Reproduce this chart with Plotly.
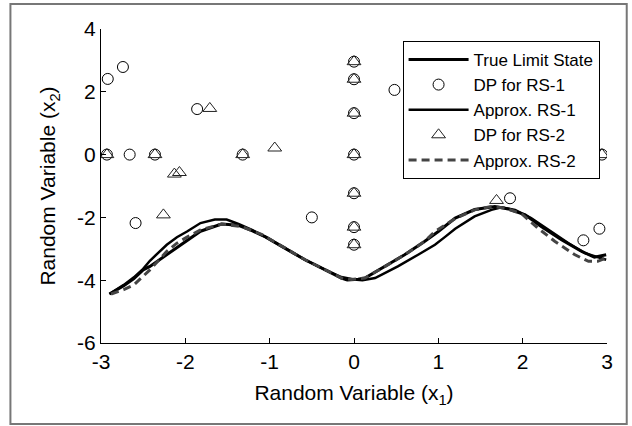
import plotly.graph_objects as go

# ---- data ----
true_x = [-2.90, -2.73, -2.61, -2.50, -2.42, -2.22, -2.10, -1.98, -1.82, -1.57, -1.37, -1.21, -1.05,
          -0.82, -0.58, -0.34, -0.15, -0.08, 0.05, 0.13, 0.37, 0.60, 0.84, 1.00, 1.20, 1.43, 1.67,
          1.83, 2.03, 2.22, 2.46, 2.70, 2.85, 2.99]
true_y = [-4.44, -4.18, -3.95, -3.67, -3.56, -3.19, -2.96, -2.75, -2.44, -2.21, -2.25, -2.42, -2.62,
          -2.98, -3.35, -3.67, -3.93, -3.99, -3.97, -3.93, -3.56, -3.19, -2.76, -2.45, -2.02, -1.75, -1.65,
          -1.73, -1.92, -2.29, -2.71, -3.08, -3.27, -3.19]

rs1_x = [-2.90, -2.73, -2.61, -2.50, -2.42, -2.22, -2.10, -1.98, -1.82, -1.65, -1.51, -1.37, -1.21,
         -1.05, -0.82, -0.58, -0.34, -0.15, 0.00, 0.10, 0.25, 0.52, 0.76, 0.96, 1.08, 1.20, 1.43,
         1.63, 1.75, 1.91, 2.10, 2.30, 2.54, 2.74, 2.89, 2.99]
rs1_y = [-4.44, -4.15, -3.91, -3.64, -3.38, -2.87, -2.63, -2.45, -2.18, -2.07, -2.07, -2.21, -2.40,
         -2.62, -2.98, -3.35, -3.67, -3.90, -3.98, -4.00, -3.93, -3.56, -3.19, -2.87, -2.62, -2.36, -1.97,
         -1.76, -1.68, -1.76, -2.02, -2.39, -2.82, -3.14, -3.27, -3.35]

rs2_x = [-2.88, -2.73, -2.61, -2.50, -2.42, -2.22, -2.10, -1.98, -1.82, -1.57, -1.33, -1.09, -0.93,
         -0.82, -0.58, -0.34, -0.15, -0.03, 0.13, 0.37, 0.60, 0.84, 0.96, 1.20, 1.43, 1.63, 1.79,
         1.99, 2.18, 2.38, 2.62, 2.78, 2.89, 2.99]
rs2_y = [-4.44, -4.30, -4.15, -3.88, -3.67, -3.08, -2.82, -2.63, -2.40, -2.21, -2.29, -2.55, -2.80,
         -2.98, -3.35, -3.67, -3.93, -3.98, -3.93, -3.56, -3.19, -2.76, -2.45, -2.04, -1.76, -1.65, -1.70,
         -1.89, -2.34, -2.76, -3.19, -3.40, -3.40, -3.29]

dp1_x = [-2.93, -2.92, -2.74, -2.66, -2.59, -2.36, -1.86, -1.32, -0.50, 0, 0, 0, 0, 0, 0, 0,
         0.48, 1.85, 2.72, 2.91, 2.94]
dp1_y = [0, 2.41, 2.79, 0, -2.18, 0, 1.45, 0, -2.0, 2.96, 2.40, 1.32, 0, -1.23, -2.31, -2.87,
         2.06, -1.39, -2.73, -2.36, 0]

dp2_x = [-2.93, -2.36, -2.26, -2.13, -2.07, -1.71, -1.32, -0.94, 0, 0, 0, 0, 0, 0, 0, 1.69, 2.94]
dp2_y = [0, 0, -1.92, -0.62, -0.57, 1.47, 0, 0.21, 2.96, 2.40, 1.32, 0, -1.23, -2.31, -2.87, -1.46, 0]

x_ticks = [-3, -2, -1, 0, 1, 2, 3]
x_tick_text = ["-3", "-2", "-1", "0", "1", "2", "3"]
y_ticks = [-6, -4, -2, 0, 2, 4]
y_tick_text = ["-6", "-4", "-2", "0", "2", "4"]

FONT = "Liberation Sans, Arial, Helvetica, sans-serif"

fig = go.Figure()
fig.add_trace(go.Scatter(x=true_x, y=true_y, mode="lines", name="True Limit State",
                         line=dict(color="black", width=3)))
fig.add_trace(go.Scatter(x=dp1_x, y=dp1_y, mode="markers", name="DP for RS-1",
                         marker=dict(symbol="circle-open", size=11, color="black",
                                     line=dict(width=1, color="black"))))
fig.add_trace(go.Scatter(x=rs1_x, y=rs1_y, mode="lines", name="Approx. RS-1",
                         line=dict(color="black", width=2.5)))
fig.add_trace(go.Scatter(x=dp2_x, y=dp2_y, mode="markers", name="DP for RS-2",
                         marker=dict(symbol="triangle-up-open", size=12, color="#222222",
                                     line=dict(width=1, color="#222222"))))
fig.add_trace(go.Scatter(x=rs2_x, y=rs2_y, mode="lines", name="Approx. RS-2",
                         line=dict(color="#444444", width=3, dash="8px,5px")))

fig.update_layout(
    width=632, height=426,
    margin=dict(l=101, r=25, t=29, b=83, pad=0),
    paper_bgcolor="white", plot_bgcolor="white",
    font=dict(family=FONT, color="black", size=20),
    showlegend=True,
    hovermode=False,
    legend=dict(x=0.596, y=0.962, xanchor="left", yanchor="top",
                bgcolor="white", bordercolor="black", borderwidth=1,
                font=dict(family=FONT, size=17, color="black"),
                itemwidth=60, tracegroupgap=0),
    xaxis=dict(range=[-3, 3], tickmode="array", tickvals=x_ticks, ticktext=x_tick_text,
               showgrid=False, zeroline=False, showline=True, linecolor="black", linewidth=1,
               ticks="inside", ticklen=5, tickwidth=1, tickcolor="black", mirror=False,
               automargin=False, tickfont=dict(size=21),
               title=dict(text="Random Variable (x<sub>1</sub>)", font=dict(size=21), standoff=13)),
    yaxis=dict(range=[-6, 4], tickmode="array", tickvals=y_ticks, ticktext=y_tick_text,
               showgrid=False, zeroline=False, showline=True, linecolor="black", linewidth=1,
               ticks="inside", ticklen=5, tickwidth=1, tickcolor="black", mirror=False,
               automargin=False, tickfont=dict(size=21),
               title=dict(text="Random Variable (x<sub>2</sub>)", font=dict(size=21), standoff=15)),
    shapes=[dict(type="rect", xref="paper", yref="paper",
                 x0=-0.179, x1=1.039, y0=-0.258, y1=1.08,
                 line=dict(color="#777777", width=2), fillcolor="rgba(0,0,0,0)", layer="below")],
)

fig.write_html("out.html", config={"displayModeBar": False},
               post_script="document.body.style.margin='0px';")
